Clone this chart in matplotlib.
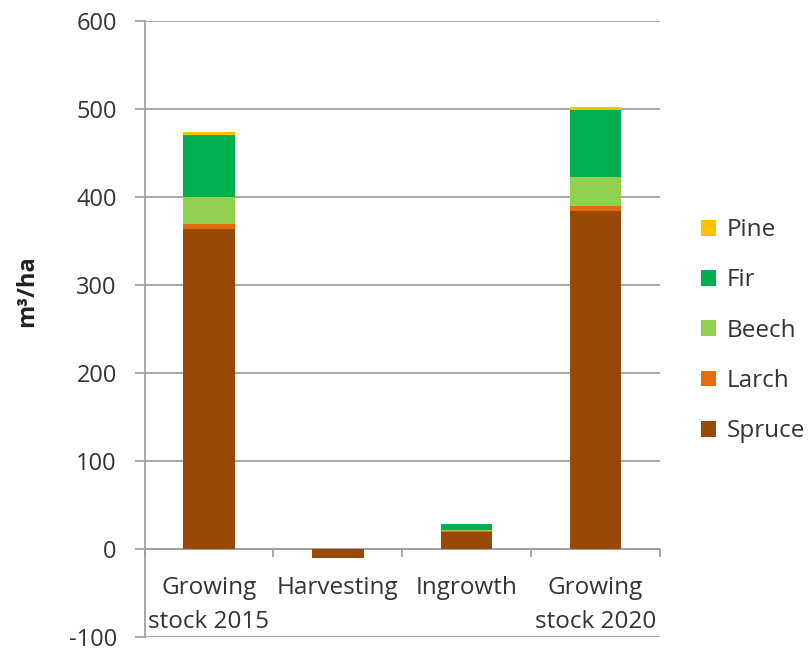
import matplotlib.pyplot as plt
import numpy as np

plt.rcParams['font.family'] = ['Open Sans', 'DejaVu Sans']
plt.rcParams['axes.unicode_minus'] = False

categories = ["Growing\nstock 2015", "Harvesting", "Ingrowth", "Growing\nstock 2020"]
species = ["Spruce", "Larch", "Beech", "Fir", "Pine"]
colors = ["#984807", "#E46C0A", "#92D050", "#00B050", "#FFC000"]

spruce = [363, -10.5, 19.5, 383.5]
larch = [6, 0, 0.5, 6]
beech = [31, 0, 1.5, 32.5]
fir = [70, 0, 6.5, 76.5]
pine = [3.5, 0, 0.3, 3.5]

series = [spruce, larch, beech, fir, pine]

fig = plt.figure(figsize=(8.1, 6.48), dpi=100)
ax = fig.add_axes([0.1785, 0.017, 0.636, 0.951])

x = np.arange(len(categories))
pos_base = np.zeros(len(categories))
neg_base = np.zeros(len(categories))
handles = []
for vals, name, col in zip(series, species, colors):
    vals = np.array(vals, dtype=float)
    base = np.where(vals >= 0, pos_base, neg_base)
    h = ax.bar(x, vals, 0.4, bottom=base, color=col, label=name, zorder=3)
    handles.append(h)
    pos_base += np.where(vals >= 0, vals, 0)
    neg_base += np.where(vals < 0, vals, 0)

ax.set_xlim(-0.5, len(categories) - 0.5)
ax.set_ylim(-100, 600)
ax.set_yticks(np.arange(-100, 601, 100))
ax.yaxis.grid(True, color="#A0A0A0", linewidth=1.3, zorder=0)
ax.set_axisbelow(True)

for s in ["top", "right"]:
    ax.spines[s].set_visible(False)
ax.spines["left"].set_color("#A0A0A0")
ax.spines["left"].set_linewidth(1.3)
ax.spines["bottom"].set_position(("data", 0))
ax.spines["bottom"].set_color("#A0A0A0")
ax.spines["bottom"].set_linewidth(1.3)

ax.tick_params(axis="y", length=7, width=1.3, color="#A0A0A0", labelsize=17,
               labelcolor="#333333", pad=13)
ax.set_xticks(x)
ax.set_xticklabels([])
ax.set_xticks(np.arange(-0.5, len(categories), 1.0), minor=True)
ax.tick_params(axis="x", which="minor", length=6, width=1.3, color="#A0A0A0", direction="out")
ax.tick_params(axis="x", which="major", length=0)

for xi, lab in zip(x, categories):
    ax.text(xi, -31, lab, ha="center", va="top", fontsize=17.5, color="#333333",
            linespacing=1.55)

ax.set_ylabel("m³/ha", fontsize=17, fontweight="bold", color="#222222")
ax.yaxis.set_label_coords(-0.204, 0.562)

leg = fig.legend(handles[::-1], species[::-1], loc="upper left",
                 bbox_to_anchor=(0.838, 0.697), frameon=False, fontsize=17.5,
                 handlelength=0.62, handleheight=0.62, labelspacing=1.08,
                 handletextpad=0.45)
for t in leg.get_texts():
    t.set_color("#333333")

fig.savefig("out.png", dpi=100)
